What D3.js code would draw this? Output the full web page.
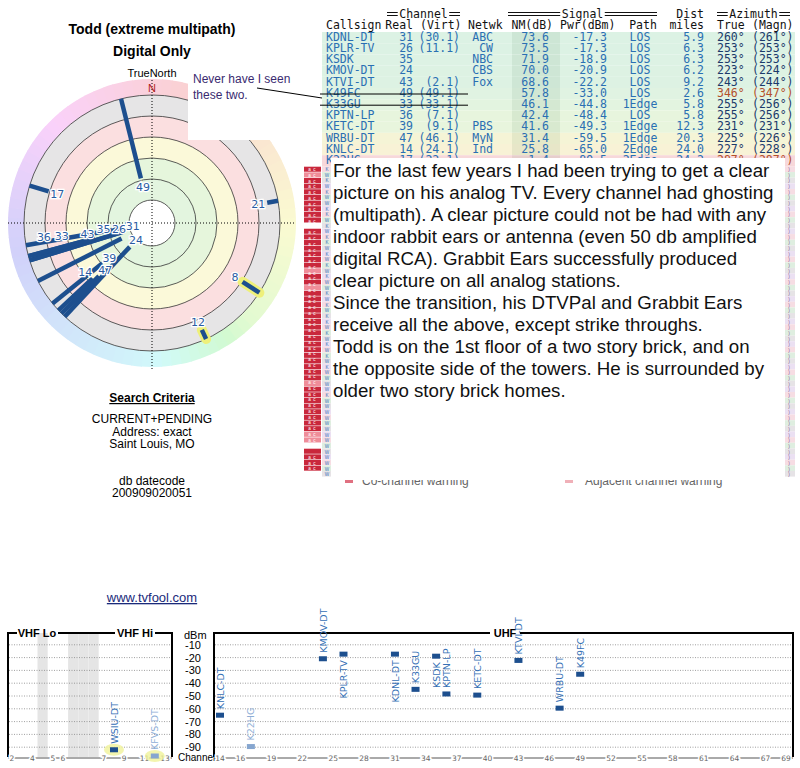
<!DOCTYPE html>
<html>
<head>
<meta charset="utf-8">
<script src="https://cdn.jsdelivr.net/npm/d3@7"></script>
<style>
  body { margin: 0; background: #fff; }
  svg { display: block; }
</style>
</head>
<body>
<svg id="chart" width="800" height="768"></svg>
<script>
// table stations (visible rows)
const callsigns = ["KDNL-DT", "KPLR-TV", "KSDK", "KMOV-DT", "KTVI-DT", "K49FC", "K33GU", "KPTN-LP", "KETC-DT", "WRBU-DT", "KNLC-DT", "K22HG"];
const realCh = [31, 26, 35, 24, 43, 49, 33, 36, 39, 47, 14, 17];
const virtCh = ["30.1", "11.1", "", "", "2.1", "49.1", "33.1", "7.1", "9.1", "46.1", "24.1", "22.1"];
const networks = ["ABC", "CW", "NBC", "CBS", "Fox", "", "", "", "PBS", "MyN", "Ind", ""];
const nmDb = [73.6, 73.5, 71.9, 70.0, 68.6, 57.8, 46.1, 42.4, 41.6, 31.4, 25.8, 1.4];
const pwrDbm = [-17.3, -17.3, -18.9, -20.9, -22.2, -33.0, -44.8, -48.4, -49.3, -59.5, -65.0, -89.5];
const paths = ["LOS", "LOS", "LOS", "LOS", "LOS", "LOS", "1Edge", "LOS", "1Edge", "1Edge", "2Edge", "2Edge"];
const miles = [5.9, 6.3, 6.3, 6.2, 9.2, 2.6, 5.8, 5.8, 12.3, 20.3, 24.0, 24.2];
const azTrue = [260, 253, 253, 223, 243, 346, 255, 255, 231, 225, 227, 287];
const azMagn = [261, 253, 253, 224, 244, 347, 256, 256, 231, 226, 228, 287];
const struck = ["K49FC", "K33GU"];

// weak stations that only show on the plots
const extraCalls = ["WSIU-DT", "KFVS-DT", ""];
const extraCh = [8, 12, 21];
const extraNm = [1.5, -7.6, -6.7];
const extraPwr = [-92, -97, null];
const extraAz = [123, 155, 80];
const highlighted = [8, 12];
const faded = ["K22HG", "KFVS-DT"];

// rows hidden behind the pasted note
const hiddenLetters = "KWKWKWWKKWKWKKWKWKWKWWKWKWKKWKWKWKWKWWWWKWWWWWWWWWWWWWW";
const hiddenBadges  = "DLDDDDDDDD-DDDDDDDLDDLDDDDDDDDDDDDDDDDLDDDDDDDDLL-DDDD";

const noteLines = [
  "For the last few years I had been trying to get a clear",
  "picture on his analog TV. Every channel had ghosting",
  "(multipath). A clear picture could not be had with any",
  "indoor rabbit ears or antenna (even 50 db amplified",
  "digital RCA). Grabbit Ears successfully produced",
  "clear picture on all analog stations.",
  "Since the transition, his DTVPal and Grabbit Ears",
  "receive all the above, except strike throughs.",
  "Todd is on the 1st floor of a two story brick, and on",
  "the opposite side of the towers. He is surrounded by",
  "older two story brick homes."
];
const criteriaLines = ["CURRENT+PENDING", "Address: exact", "Saint Louis, MO"];

const dbTicks = [-10, -20, -30, -40, -50, -60, -70, -80, -90];
const vhfSlots = ["2", "3", "4", "g1", "5", "6", "g2", "g3", "g4", "7", "8", "9", "10", "11", "12", "13"];
const vhfTicks = ["2", "4", "5", "6", "7", "9", "11", "13"];
const uhfTicks = [14, 16, 19, 22, 25, 28, 31, 34, 37, 40, 43, 46, 49, 52, 55, 58, 61, 64, 67, 69];

const svg = d3.select("#chart");
const sans = "Liberation Sans, Arial, sans-serif";
const mono = "DejaVu Sans Mono, monospace";
const blue = "#1d4f8e";

// ---------- polar plot ----------
const cx = 152, cy = 223;
const ringR = [23, 44, 65, 86, 107, 128];
const outerR = 144;
const rNm = d3.scaleLinear().domain([0, 80]).range([109.6, 21.6]);
const hueAt = d3.scaleLinear()
  .domain([0, 45, 90, 135, 180, 225, 270, 315, 360])
  .range([345, 385, 420, 455, 545, 575, 610, 660, 705]);

function polar(az, r) {
  const a = az * Math.PI / 180;
  return [cx + r * Math.sin(a), cy - r * Math.cos(a)];
}

const pg = svg.append("g");
const arc = d3.arc();
d3.range(0, 360, 4).forEach(az => {
  pg.append("path")
    .attr("transform", `translate(${cx},${cy})`)
    .attr("d", arc({ innerRadius: 128, outerRadius: outerR, startAngle: az * Math.PI / 180, endAngle: (az + 4.3) * Math.PI / 180 }))
    .attr("fill", d3.hsl(hueAt(az + 2) % 360, 0.8, 0.9).formatHex());
});
const bandFill = ["#ffffff", "#e3f5df", "#e6f6dc", "#fbf9d9", "#fbdfe0", "#e6e5e6"];
[...ringR].reverse().forEach((r, i) => {
  pg.append("circle").attr("cx", cx).attr("cy", cy).attr("r", r)
    .attr("fill", bandFill[ringR.length - 1 - i]);
});
ringR.forEach(r => {
  pg.append("circle").attr("cx", cx).attr("cy", cy).attr("r", r)
    .attr("fill", "none").attr("stroke", "#333").attr("stroke-width", 0.8);
});
pg.append("line").attr("x1", 8).attr("x2", 296).attr("y1", cy).attr("y2", cy)
  .attr("stroke", "#000").attr("stroke-dasharray", "1,2");
pg.append("line").attr("x1", cx).attr("x2", cx).attr("y1", 80).attr("y2", 370)
  .attr("stroke", "#000").attr("stroke-dasharray", "1,2");

const polarData = callsigns.map((c, i) => ({ ch: realCh[i], nm: nmDb[i], az: azTrue[i] }))
  .concat(extraCh.map((ch, i) => ({ ch, nm: extraNm[i], az: extraAz[i] })));

polarData.filter(d => highlighted.includes(d.ch)).forEach(d => {
  const p0 = polar(d.az, rNm(d.nm)), p1 = polar(d.az, 128);
  pg.append("line").attr("x1", p0[0]).attr("y1", p0[1]).attr("x2", p1[0]).attr("y2", p1[1])
    .attr("stroke", "#eef07a").attr("stroke-width", 10).attr("stroke-linecap", "round");
});
polarData.forEach(d => {
  const p0 = polar(d.az, rNm(d.nm)), p1 = polar(d.az, 128);
  pg.append("line").attr("x1", p0[0]).attr("y1", p0[1]).attr("x2", p1[0]).attr("y2", p1[1])
    .attr("stroke", blue).attr("stroke-width", 4.5);
});

// labels, pushed left when they collide
const placed = [];
polarData.slice().sort((a, b) => b.nm - a.nm).forEach(d => {
  let [x, y] = polar(d.az, rNm(d.nm) - 9);
  while (placed.some(p => Math.abs(p[0] - x) < 13 && Math.abs(p[1] - y) < 8)) x -= 14;
  placed.push([x, y]);
  pg.append("text").attr("x", x).attr("y", y + 4).attr("text-anchor", "middle")
    .attr("font-family", "DejaVu Sans, sans-serif").attr("font-size", 11).attr("fill", "#2a5ca3")
    .attr("stroke", "#fff").attr("stroke-width", 2.5).attr("paint-order", "stroke")
    .text(d.ch);
});

svg.append("text").attr("x", 152).attr("y", 77).attr("text-anchor", "middle")
  .attr("font-family", sans).attr("font-size", 11).text("TrueNorth");
svg.append("text").attr("x", 152).attr("y", 92).attr("text-anchor", "middle")
  .attr("font-family", sans).attr("font-size", 11).attr("fill", "#b02020").text("N");

svg.append("text").attr("x", 152).attr("y", 34).attr("text-anchor", "middle")
  .attr("font-family", sans).attr("font-size", 14).attr("font-weight", "bold").text("Todd (extreme multipath)");
svg.append("text").attr("x", 152).attr("y", 56).attr("text-anchor", "middle")
  .attr("font-family", sans).attr("font-size", 14).attr("font-weight", "bold").text("Digital Only");

// ---------- table ----------
const tg = svg.append("g");
const rowH = 11.2, row0 = 32;
const rowColor = d3.scaleLinear().domain([0, 20, 35, 45, 75])
  .range(["#f7d6da", "#fbefd6", "#f3f6d6", "#e3f4e0", "#dcf2e4"]);

// hidden rows: backgrounds and badges; their letter columns are vertical texts
const hiddenTop = row0 + rowH * callsigns.length, subH = 5.64;
const hidden = hiddenLetters.split("").map((ch, i) => ({ ch, badge: hiddenBadges[i] || "-", y: hiddenTop + i * subH }));
hidden.forEach((d, i) => {
  tg.append("rect").attr("x", 322).attr("y", d.y).attr("width", 473).attr("height", subH)
    .attr("fill", ["#f6dde3", "#dfeee0", "#e6e3e6", "#ebe0f2"][i % 4]);
  if (d.badge !== "-") {
    tg.append("rect").attr("x", 304).attr("y", d.y + 0.3).attr("width", 17).attr("height", subH - 0.6)
      .attr("fill", d.badge === "D" ? "#c9283c" : "#ef8d99");
  }
});
function column(x, fill, str) {
  tg.append("text").attr("x", x).attr("y", hiddenTop + 0.6)
    .attr("writing-mode", "vertical-rl").style("text-orientation", "upright")
    .attr("textLength", hidden.length * subH).attr("lengthAdjust", "spacing")
    .attr("font-family", sans).attr("font-size", 4.6).attr("fill", fill).text(str);
}
column(309.5, "#fff", hidden.map(d => d.badge === "-" ? " " : "a").join(""));
column(314.5, "#fff", hidden.map(d => d.badge === "-" ? " " : "c").join(""));
column(327, "#3a72b8", hiddenLetters);
column(789, "#7a4a90", hidden.map(() => ")").join(""));

callsigns.forEach((c, i) => {
  const yy = row0 + i * rowH;
  tg.append("rect").attr("x", 322).attr("y", yy).attr("width", 473).attr("height", rowH).attr("fill", rowColor(nmDb[i]));
  tg.append("rect").attr("x", 512).attr("y", yy).attr("width", 48).attr("height", rowH).attr("fill", "#0a5020").attr("opacity", 0.07);
  const base = yy + 8.8;
  const warn = azTrue[i] > 280 || azTrue[i] < 80;
  const cells = [
    [326, "start", c, "#2a6fb3"],
    [413, "end", realCh[i], "#2a6fb3"],
    [460, "end", virtCh[i] ? `(${virtCh[i]})` : "", "#2a6fb3"],
    [493, "end", networks[i], "#2a6fb3"],
    [549, "end", nmDb[i].toFixed(1), "#2a6fb3"],
    [607, "end", pwrDbm[i].toFixed(1), "#2a6fb3"],
    [640, "middle", paths[i], "#2a6fb3"],
    [704, "end", miles[i].toFixed(1), "#2a6fb3"],
    [717, "start", `${azTrue[i]}°`, warn ? "#b4502a" : "#1b3a6b"],
    [752, "start", `(${azMagn[i]}°)`, warn ? "#b4502a" : "#1b3a6b"]
  ];
  cells.forEach(([x, anchor, txt, col]) => {
    if (txt === "") return;
    tg.append("text").attr("x", x).attr("y", base).attr("text-anchor", anchor)
      .attr("font-family", mono).attr("font-size", 11.5).attr("fill", col).text(txt);
  });
  if (struck.includes(c)) {
    tg.append("line").attr("x1", 320).attr("x2", 468).attr("y1", yy + 6).attr("y2", yy + 6)
      .attr("stroke", "#000").attr("stroke-width", 1);
  }
});

// header
const head2 = [[326, "start", "Callsign"], [413, "end", "Real"], [420, "start", "(Virt)"], [468, "start", "Netwk"],
  [553, "end", "NM(dB)"], [560, "start", "Pwr(dBm)"], [643, "middle", "Path"], [704, "end", "miles"],
  [717, "start", "True"], [752, "start", "(Magn)"]];
head2.forEach(([x, a, t]) => {
  tg.append("text").attr("x", x).attr("y", 29).attr("text-anchor", a)
    .attr("font-family", mono).attr("font-size", 11.5).attr("fill", "#111").text(t);
});
tg.append("text").attr("x", 704).attr("y", 18).attr("text-anchor", "end")
  .attr("font-family", mono).attr("font-size", 11.5).attr("fill", "#111").text("Dist");
[["Channel", 387, 460], ["Signal", 508, 657], ["Azimuth", 717, 790]].forEach(([t, x0, x1]) => {
  const mid = (x0 + x1) / 2, half = t.length * 6.93 / 2 + 1.5;
  tg.append("text").attr("x", mid).attr("y", 18).attr("text-anchor", "middle")
    .attr("font-family", mono).attr("font-size", 11.5).attr("fill", "#111").text(t);
  [[x0, mid - half], [mid + half, x1]].forEach(([a, b]) => {
    [12.5, 15.5].forEach(ly => tg.append("line").attr("x1", a).attr("x2", b).attr("y1", ly).attr("y2", ly)
      .attr("stroke", "#111").attr("stroke-width", 1));
  });
});

// legend under the table (mostly hidden)
svg.append("text").attr("x", 362).attr("y", 485).attr("font-family", sans).attr("font-size", 12).attr("fill", "#666").text("Co-channel warning");
svg.append("text").attr("x", 585).attr("y", 485).attr("font-family", sans).attr("font-size", 12).attr("fill", "#666").text("Adjacent channel warning");
svg.append("rect").attr("x", 345).attr("y", 478).attr("width", 8).attr("height", 5).attr("fill", "#e07080");
svg.append("rect").attr("x", 565).attr("y", 478).attr("width", 8).attr("height", 5).attr("fill", "#f0b0b8");

// pasted note over the table
svg.append("rect").attr("x", 331).attr("y", 158).attr("width", 454).attr("height", 322).attr("fill", "#fff");
noteLines.forEach((t, i) => {
  svg.append("text").attr("x", 333).attr("y", 177 + i * 22)
    .attr("font-family", sans).attr("font-size", 18.7).attr("fill", "#111").text(t);
});

// note box over the polar plot
svg.append("rect").attr("x", 188).attr("y", 68).attr("width", 114).attr("height", 72).attr("fill", "#fff");
svg.append("text").attr("x", 193).attr("y", 83).attr("font-family", sans).attr("font-size", 12).attr("fill", "#3a2a70").text("Never have I seen");
svg.append("text").attr("x", 193).attr("y", 99).attr("font-family", sans).attr("font-size", 12).attr("fill", "#3a2a70").text("these two.");
svg.append("line").attr("x1", 257).attr("y1", 88).attr("x2", 322).attr("y2", 98).attr("stroke", "#000").attr("stroke-width", 1);

// ---------- search criteria ----------
svg.append("text").attr("x", 152).attr("y", 402).attr("text-anchor", "middle")
  .attr("font-family", sans).attr("font-size", 12).attr("font-weight", "bold")
  .attr("text-decoration", "underline").text("Search Criteria");
criteriaLines.forEach((t, i) => {
  svg.append("text").attr("x", 152).attr("y", 423 + i * 12.5).attr("text-anchor", "middle")
    .attr("font-family", sans).attr("font-size", 12).text(t);
});
svg.append("text").attr("x", 152).attr("y", 485).attr("text-anchor", "middle")
  .attr("font-family", sans).attr("font-size", 12).text("db datecode");
svg.append("text").attr("x", 152).attr("y", 497).attr("text-anchor", "middle")
  .attr("font-family", sans).attr("font-size", 12).text("200909020051");
svg.append("text").attr("x", 152).attr("y", 602).attr("text-anchor", "middle")
  .attr("font-family", sans).attr("font-size", 13).attr("fill", "#1a2a7a")
  .attr("text-decoration", "underline").text("www.tvfool.com");

// ---------- spectrum ----------
const yDb = d3.scaleLinear().domain([0, -100]).range([632, 760]);
const xU = d3.scaleLinear().domain([14, 69]).range([220, 786]);
const xV = d3.scalePoint().domain(vhfSlots).range([12, 165]);
const sg = svg.append("g");
const fTop = 633, fBottom = 757;

["g1", "g2", "g3", "g4"].forEach(s => {
  sg.append("rect").attr("x", xV(s) - 5.1).attr("y", fTop).attr("width", 10.2).attr("height", fBottom - fTop).attr("fill", "#e5e5e5");
});
dbTicks.forEach(d => {
  [[9, 171], [215, 792]].forEach(([a, b]) => {
    sg.append("line").attr("x1", a).attr("x2", b).attr("y1", yDb(d)).attr("y2", yDb(d))
      .attr("stroke", "#888").attr("stroke-dasharray", "1,1.5").attr("stroke-width", 0.8);
  });
  sg.append("text").attr("x", 201).attr("y", yDb(d) + 4).attr("text-anchor", "end")
    .attr("font-family", sans).attr("font-size", 11).text(d);
});
sg.append("text").attr("x", 184).attr("y", 639).attr("font-family", sans).attr("font-size", 11).text("dBm");
sg.append("text").attr("x", 178).attr("y", 761).attr("font-family", sans).attr("font-size", 10).text("Channel");

// frames
const frame = [
  [[8, fBottom], [8, fTop], [17, fTop]], [[58, fTop], [115, fTop]], [[155, fTop], [172, fTop], [172, fBottom]],
  [[214, fBottom], [214, fTop], [490, fTop]], [[520, fTop], [793, fTop], [793, fBottom]]
];
frame.forEach(pts => sg.append("path").attr("d", d3.line()(pts)).attr("fill", "none").attr("stroke", "#000").attr("stroke-width", 2));
[["VHF Lo", 37], ["VHF Hi", 135], ["UHF", 505]].forEach(([t, x]) => {
  sg.append("text").attr("x", x).attr("y", 637).attr("text-anchor", "middle")
    .attr("font-family", sans).attr("font-size", 11).attr("font-weight", "bold").text(t);
});

// channel axis
[[8, 172], [214, 793]].forEach(([a, b]) => {
  sg.append("line").attr("x1", a).attr("x2", b).attr("y1", 758).attr("y2", 758).attr("stroke", "#555");
});
const tickText = (x, t) => sg.append("text").attr("x", x).attr("y", 761).attr("text-anchor", "middle")
  .attr("font-family", "DejaVu Sans, sans-serif").attr("font-size", 7.5).attr("fill", "#666")
  .attr("stroke", "#fff").attr("stroke-width", 3).attr("paint-order", "stroke").text(t);
vhfTicks.forEach(t => tickText(xV(t), t));
uhfTicks.forEach(t => tickText(xU(t), t));

const specData = callsigns.map((c, i) => ({ call: c, ch: realCh[i], pwr: pwrDbm[i] }))
  .concat(extraCalls.map((c, i) => ({ call: c, ch: extraCh[i], pwr: extraPwr[i] })))
  .filter(d => d.pwr !== null);
const chX = ch => ch >= 14 ? xU(ch) : xV(String(ch));

specData.forEach(d => {
  const x = chX(d.ch), yy = Math.min(yDb(d.pwr), 756);
  const fade = faded.includes(d.call);
  if (highlighted.includes(d.ch)) {
    sg.append("ellipse").attr("cx", x).attr("cy", yy).attr("rx", 10).attr("ry", 6).attr("fill", "#f0f29a").attr("opacity", 0.8);
  }
  sg.append("rect").attr("x", x - 4).attr("y", yy - 2.5).attr("width", 8).attr("height", 5)
    .attr("fill", fade ? "#86a6cf" : blue);
  const below = d.pwr > -20;
  sg.append("text").attr("transform", `translate(${x},${yy}) rotate(-90)`)
    .attr("x", below ? -6 : 6).attr("y", 3.6).attr("text-anchor", below ? "end" : "start")
    .attr("font-family", "DejaVu Sans, sans-serif").attr("font-size", 9.5)
    .attr("fill", fade ? "#8eaed6" : "#3570b5").text(d.call);
});
</script>
</body>
</html>
